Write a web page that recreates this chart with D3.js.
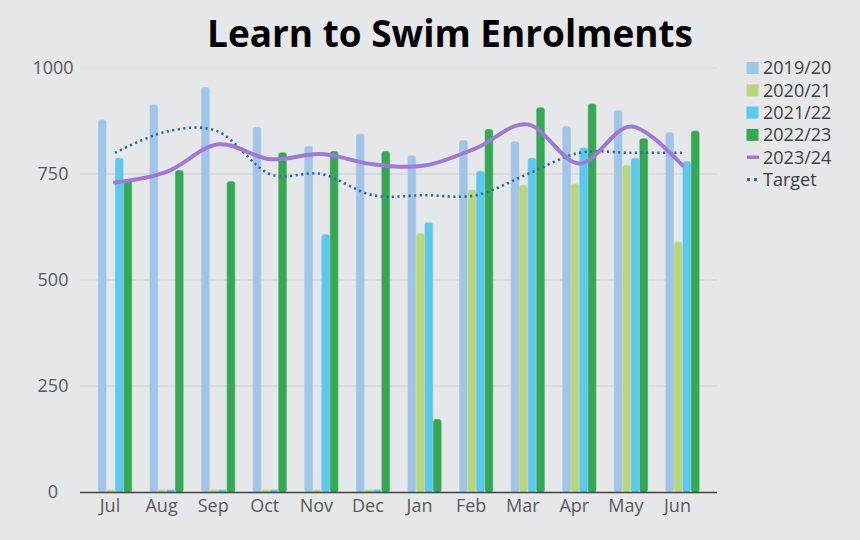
<!DOCTYPE html>
<html><head><meta charset="utf-8">
<script src="https://cdn.jsdelivr.net/npm/d3@7"></script>
<style>
html,body{margin:0;padding:0;background:#e6e7e9;}
svg{display:block;font-family:"Open Sans",sans-serif;}
</style></head>
<body>
<svg id="chart" width="860" height="540"></svg>
<script>
const months = ["Jul","Aug","Sep","Oct","Nov","Dec","Jan","Feb","Mar","Apr","May","Jun"];
const barSeriesNames = ["2019/20","2020/21","2021/22","2022/23"];
const s2019 = [877, 913, 954, 860, 815, 844, 793, 829, 826, 862, 899, 847];
const s2020 = [0, 0, 0, 0, 0, 0, 609, 712, 723, 726, 770, 589];
const s2021 = [787, 0, 0, 0, 607, 0, 635, 756, 787, 811, 787, 779];
const s2022 = [733, 758, 732, 800, 803, 803, 171, 855, 906, 915, 833, 851];
const s2023 = [730, 755, 820, 785, 797, 773, 770, 811, 867, 775, 862, 770];
const target = [800, 850, 850, 750, 750, 700, 700, 700, 750, 800, 800, 800];
const yTicks = [0, 250, 500, 750, 1000];
const title = "Learn to Swim Enrolments";

const barColors = ["#9fc5e8", "#b9d77a", "#5bc8ef", "#34a853"];
const lineColor = "#a078d8";
const targetColor = "#2f69a5";

const svg = d3.select("#chart");
svg.append("rect").attr("width",860).attr("height",540).attr("fill","#e6e7e9");

const x0 = d3.scaleBand().domain(months).range([89.2, 708.3]).paddingInner(0.34).paddingOuter(0.17);
const x1 = d3.scaleBand().domain(barSeriesNames).range([0, x0.bandwidth()]).padding(0);
const y = d3.scaleLinear().domain([0, 1000]).range([492, 68]);

// gridlines
svg.append("g").selectAll("line").data(yTicks.filter(d=>d>0)).join("line")
  .attr("x1",80).attr("x2",717).attr("y1",d=>y(d)).attr("y2",d=>y(d))
  .attr("stroke","#cfd0d2").attr("stroke-width",1.2);

// y axis labels
svg.append("g").selectAll("text").data(yTicks).join("text")
  .attr("x",53).attr("y",d=>y(d)).attr("dy","0.35em")
  .attr("text-anchor","middle").attr("fill","#595959").attr("font-size",18)
  .text(d=>d);

// bars (zero values still show a thin stub, as in the original)
const seriesData = [s2019, s2020, s2021, s2022];
const minH = 2;
seriesData.forEach((vals, si) => {
  svg.append("g").selectAll("rect").data(vals).join("rect")
    .attr("x",(d,i)=>x0(months[i]) + x1(barSeriesNames[si]) + 0.5)
    .attr("width", x1.bandwidth() - 1)
    .attr("y", d=>Math.min(y(d), y(0)-minH))
    .attr("height", d=>Math.max(minH, y(0)-y(d)))
    .attr("rx", d=> d>0 ? 2.5 : 0.8)
    .attr("fill", barColors[si])
    .attr("stroke", barColors[si]).attr("stroke-opacity",0.6)
    .attr("stroke-width", 1.2);
});

// baseline
svg.append("line").attr("x1",80).attr("x2",717).attr("y1",y(0)+0.5).attr("y2",y(0)+0.5)
  .attr("stroke","#404040").attr("stroke-width",1.3);

// x labels
svg.append("g").selectAll("text").data(months).join("text")
  .attr("x",d=>x0(d)+x0.bandwidth()/2-5).attr("y",512)
  .attr("text-anchor","middle").attr("fill","#595959").attr("font-size",18)
  .text(d=>d);

// lines
const cx = (d,i)=>x0(months[i])+x0.bandwidth()/2;
const line = d3.line().x(cx).y(d=>y(d)).curve(d3.curveCardinal.tension(0));
svg.append("path").datum(target).attr("d",line).attr("fill","none")
  .attr("stroke",targetColor).attr("stroke-width",2.6)
  .attr("stroke-dasharray","2.2 3.4").attr("stroke-linecap","butt");
svg.append("path").datum(s2023).attr("d",line).attr("fill","none")
  .attr("stroke",lineColor).attr("stroke-width",4).attr("stroke-linecap","round");

// title
const t = svg.append("text").attr("x",450).attr("y",47).attr("text-anchor","middle")
  .attr("font-weight",700).attr("font-size",36).attr("fill","#000").text(title);
const w = t.node().getComputedTextLength();
t.attr("font-size", 36*486/w);

// legend
const legendItems = barSeriesNames.map((n,i)=>({name:n,type:"bar",color:barColors[i]}))
  .concat([{name:"2023/24",type:"line",color:lineColor},{name:"Target",type:"dot",color:targetColor}]);
const lg = svg.append("g").selectAll("g").data(legendItems).join("g")
  .attr("transform",(d,i)=>`translate(746,${68+i*22.3})`);
lg.each(function(d){
  const g = d3.select(this);
  if(d.type==="bar") g.append("rect").attr("x",0.5).attr("y",-6).attr("width",12).attr("height",12).attr("fill",d.color);
  else if(d.type==="line") g.append("line").attr("x1",1).attr("x2",13).attr("y1",0).attr("y2",0).attr("stroke",d.color).attr("stroke-width",3.5);
  else g.append("line").attr("x1",1).attr("x2",13).attr("y1",0).attr("y2",0).attr("stroke",d.color).attr("stroke-width",3).attr("stroke-dasharray","3 4");
});
lg.append("text").attr("x",17).attr("y",0).attr("dy","0.35em").attr("font-size",18).attr("fill","#404040").text(d=>d.name);
</script>
</body></html>
